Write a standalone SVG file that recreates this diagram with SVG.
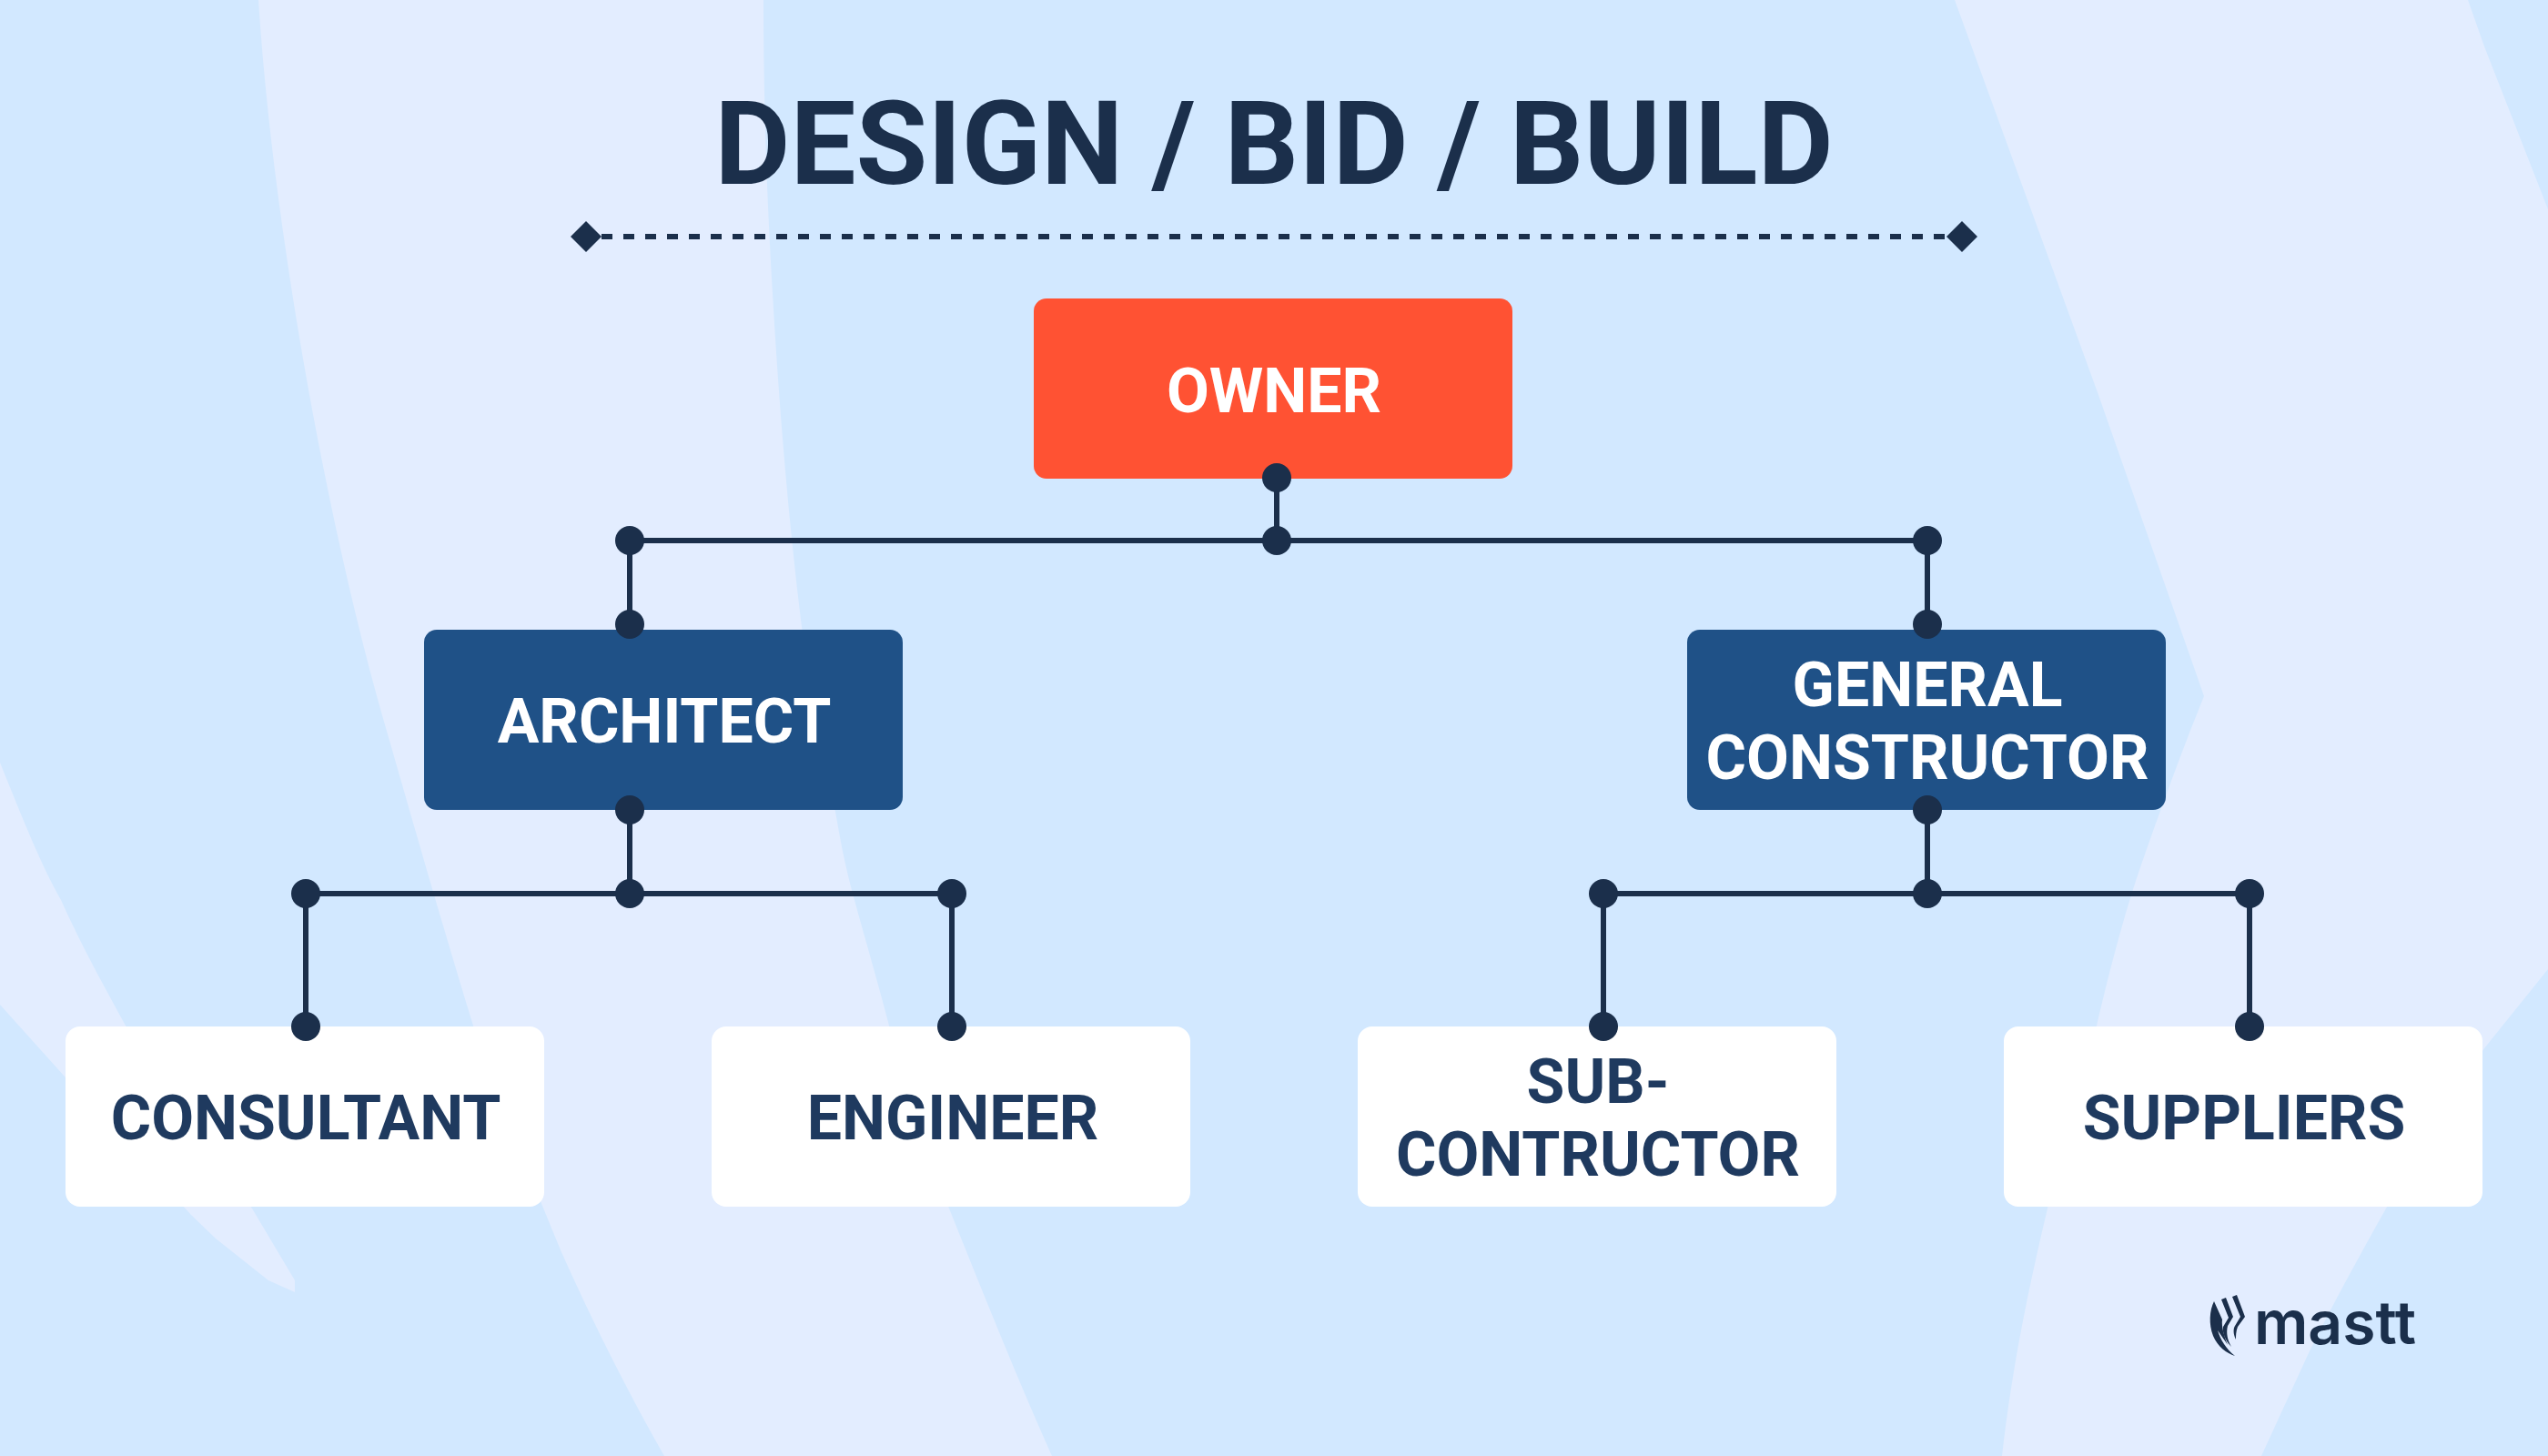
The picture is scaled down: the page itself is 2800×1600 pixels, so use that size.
<svg xmlns="http://www.w3.org/2000/svg" width="2800" height="1600" viewBox="0 0 2800 1600">
<defs><style>
.band{fill:#e3edff}
text{font-family:Roboto,"Liberation Sans",sans-serif;font-weight:700;text-anchor:middle}
.t{font-size:68px;fill:#1f3a5f}
.w{font-size:68px;fill:#fff}
.l{stroke:#1b2f4b;stroke-width:6;fill:none}
.d{fill:#1b2f4b}
</style></defs>
<rect width="2800" height="1600" fill="#d2e8ff"/>
<g id="background">
<path class="band" d="M284 0C300 250 360 580 424 800C450 890 490 1030 520 1127C560 1240 590 1310 617 1376C650 1450 690 1530 730 1600L1156 1600C1120 1520 1080 1420 1043 1328C1020 1260 995 1190 977 1127C965 1080 950 1030 939 989C928 950 923 920 918 892C905 830 890 760 881 689C865 560 855 430 848 306C842 200 839 100 839 0Z"/>
<path class="band" d="M2148 0L2306 434L2422 765L2408 800C2385 860 2365 915 2347 968C2330 1020 2315 1080 2304 1127C2280 1200 2262 1270 2250 1328C2228 1420 2210 1510 2200 1600L2485 1600L2536 1489C2560 1440 2590 1385 2622 1328C2650 1280 2700 1195 2730 1152L2800 1065V230L2730 51L2712 0Z"/>
<path class="band" d="M0 838C25 900 45 950 67 989C90 1040 115 1085 138 1127L277 1328L324 1407V1420L295 1407L237 1361L210 1335L71 1183L0 1104Z"/>
</g>
<g id="title"><text x="1400" y="202" font-size="128" fill="#1b2f4b">DESIGN / BID / BUILD</text>
<path class="l" stroke-dasharray="12 12" d="M661 260H2140"/>
<path class="d" d="M644 243L661 260L644 277L627 260Z"/>
<path class="d" d="M2156 243L2173 260L2156 277L2139 260Z"/>
</g>
<g id="owner"><rect x="1136" y="328" width="526" height="198" rx="14" fill="#ff5233"/><text class="w" x="1400" y="453">OWNER</text></g>
<g id="architect"><rect x="466" y="692" width="526" height="198" rx="14" fill="#1f5187"/><text class="w" x="730" y="816">ARCHITECT</text></g>
<g id="general-constructor"><rect x="1854" y="692" width="526" height="198" rx="14" fill="#1f5187"/><text class="w" x="2118" y="776">GENERAL</text><text class="w" x="2118" y="856">CONSTRUCTOR</text></g>
<g id="consultant"><rect x="72" y="1128" width="526" height="198" rx="16" fill="#fff"/><text class="t" x="336" y="1252">CONSULTANT</text></g>
<g id="engineer"><rect x="782" y="1128" width="526" height="198" rx="16" fill="#fff"/><text class="t" x="1047" y="1252">ENGINEER</text></g>
<g id="sub-contractor"><rect x="1492" y="1128" width="526" height="198" rx="16" fill="#fff"/><text class="t" x="1756" y="1212">SUB-</text><text class="t" x="1756" y="1292">CONTRUCTOR</text></g>
<g id="suppliers"><rect x="2202" y="1128" width="526" height="198" rx="16" fill="#fff"/><text class="t" x="2466" y="1252">SUPPLIERS</text></g>
<g id="connectors">
<path class="l" d="M1403 525V594M692 594H2118M692 594V686M2118 594V686M692 890V982M336 982H1046M336 982V1128M1046 982V1128M2118 890V982M1762 982H2472M1762 982V1128M2472 982V1128"/>
<g class="d"><circle cx="1403" cy="525" r="16"/><circle cx="1403" cy="594" r="16"/><circle cx="692" cy="594" r="16"/><circle cx="2118" cy="594" r="16"/><circle cx="692" cy="686" r="16"/><circle cx="2118" cy="686" r="16"/><circle cx="692" cy="890" r="16"/><circle cx="2118" cy="890" r="16"/><circle cx="692" cy="982" r="16"/><circle cx="336" cy="982" r="16"/><circle cx="1046" cy="982" r="16"/><circle cx="2118" cy="982" r="16"/><circle cx="1762" cy="982" r="16"/><circle cx="2472" cy="982" r="16"/><circle cx="336" cy="1128" r="16"/><circle cx="1046" cy="1128" r="16"/><circle cx="1762" cy="1128" r="16"/><circle cx="2472" cy="1128" r="16"/></g>
</g>
<g id="logo">
<text x="2566" y="1477" font-size="66" fill="#1b2f4b" style="font-family:Inter,sans-serif;font-weight:600">mastt</text>
<g class="d"><path d="M2433 1430C2428 1440 2427 1455 2432 1468C2437 1480 2447 1487 2456 1490C2446 1482 2440 1472 2437 1462C2441 1468 2445 1473 2448 1478C2444 1468 2441 1458 2442 1450Z"/><path d="M2441 1428L2446 1426L2454 1447L2448 1457C2446 1465 2448 1473 2452 1480C2445 1473 2442 1464 2443 1458L2449 1448Z"/><path d="M2453 1425L2458 1423L2467 1447L2459 1458C2457 1463 2457 1468 2457 1472C2454 1466 2454 1460 2456 1457L2462 1447Z"/></g>
</g>
</svg>
